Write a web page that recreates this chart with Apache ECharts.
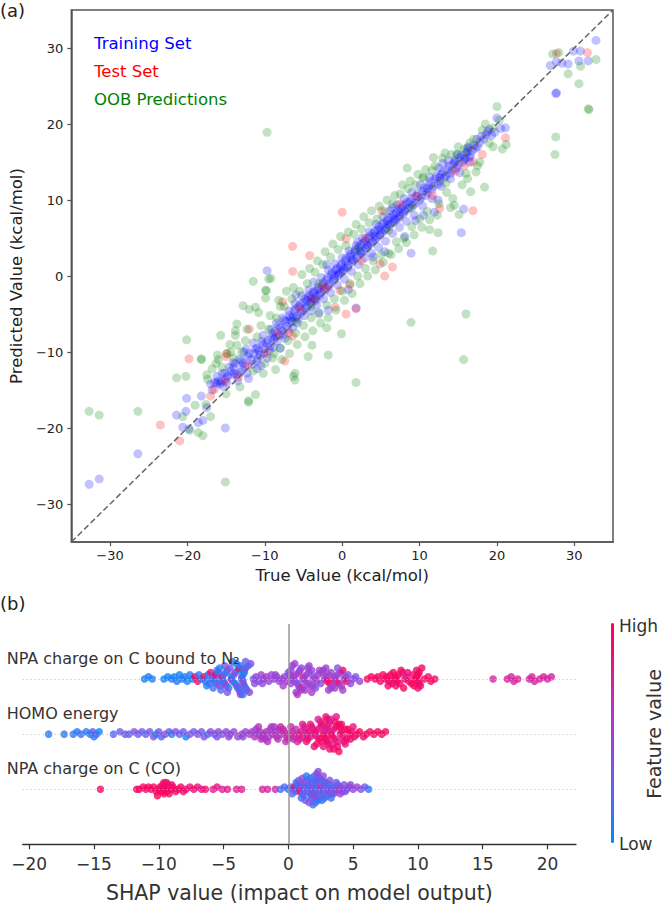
<!DOCTYPE html>
<html>
<head>
<meta charset="utf-8">
<script src="https://cdn.jsdelivr.net/npm/echarts@6/dist/echarts.min.js"></script>
<style>
  html, body { margin: 0; padding: 0; background: #fff; }
  #chart { width: 666px; height: 906px; }
</style>
</head>
<body>
<div id="chart"></div>
<script>
// (a) parity plot, points are [true value, predicted value] in kcal/mol
const trainingSet = [
  [-32.7,-27.4],[-31.4,-26.7],[-26.4,-23.4],[-21.4,-18.3],[-20.1,-16.1],[-20.2,-17.8],[-20.6,-19.9],[-19.8,-20.1],
  [-18.2,-15.8],[-18.6,-19.3],[-18.0,-19.0],[-15.1,-20.0],[-17.5,-17.3],[-16.2,-14.1],[-15.1,-13.5],[-13.8,-11.5],
  [-13.2,-12.7],[-12.1,-13.5],[-12.4,-9.6],[-9.7,0.7],[8.9,3.0],[8.1,5.2],[15.4,5.7],[11.9,8.4],[20.0,20.8],
  [21.1,19.5],[20.5,19.4],[19.7,18.9],[27.6,24.0],[27.7,24.1],[32.8,31.0],[29.9,29.6],[30.8,29.6],[26.9,27.7],
  [27.7,28.2],[28.4,28.0],[29.2,27.9],[30.6,28.3],[31.8,28.3],[12.4,10.0],[15.7,8.8],[1.8,-4.2],[-1.8,-4.5],
  [-17.0,-14.2],[-16.5,-14.0],[-16.0,-13.8],[-15.6,-13.9],[-15.2,-12.8],[-14.8,-13.2],[-14.4,-12.5],[-14.0,-12.0],
  [-13.6,-13.0],[-13.0,-11.2],[-12.6,-11.8],[-12.2,-10.6],[-11.8,-11.0],[-11.4,-10.2],[-11.0,-9.5],[-10.6,-10.4],
  [-10.3,-9.0],[-10.0,-9.6],[-9.6,-8.5],[-9.3,-9.2],[-9.0,-7.6],[-8.6,-8.0],[-8.2,-6.5],[-7.8,-7.2],[-7.5,-5.8],
  [-7.2,-6.6],[-6.8,-5.2],[-6.5,-6.0],[-6.2,-4.6],[-5.9,-5.3],[-5.6,-4.0],[-5.3,-4.8],[-5.0,-3.5],[-4.7,-4.2],
  [-4.4,-2.8],[-4.1,-3.6],[-3.8,-2.2],[-3.5,-3.0],[-3.2,-1.8],[-2.9,-2.5],[-2.6,-1.2],[-2.3,-1.9],[-2.0,-0.5],
  [-1.7,-1.3],[-1.4,0.2],[-1.1,-0.6],[-0.8,0.8],[-0.5,0.1],[-0.2,1.3],[0.1,0.6],[0.4,2.0],[0.7,1.1],[1.0,2.6],
  [1.3,1.8],[1.6,3.2],[1.9,2.4],[2.2,3.8],[2.5,3.0],[2.8,4.4],[3.1,3.6],[3.4,5.0],[3.7,4.2],[4.0,5.6],[4.3,4.8],
  [4.6,6.1],[4.9,5.4],[5.2,6.8],[5.5,6.0],[5.8,7.3],[6.1,6.6],[6.4,7.8],[6.7,7.1],[7.0,8.3],[7.3,7.6],[7.6,8.9],
  [7.9,8.2],[8.2,9.4],[8.5,8.8],[8.8,9.8],[9.2,9.3],[9.6,10.5],[10.0,10.0],[10.4,11.2],[10.8,10.6],[11.2,12.0],
  [11.6,11.4],[12.0,12.8],[12.4,12.1],[12.8,13.4],[13.2,12.9],[13.6,14.0],[14.0,13.5],[14.4,14.8],[14.8,14.2],
  [15.2,15.6],[15.6,15.0],[16.0,16.2],[16.4,15.6],[16.8,16.5],[17.2,16.8],[17.8,17.6],[18.3,18.0],[18.8,19.0],
  [19.3,18.5],[-6.0,-2.5],[-3.0,-4.8],[0.8,-1.8],[2.0,4.5],[-8.0,-9.5],[-11.0,-12.2],[4.0,2.5],[6.5,9.0],
  [10.5,8.0],[13.0,14.8],[-2.0,1.5],[5.5,3.2],[9.5,7.3],[-4.5,-3.2],[-4.0,-2.9],[-3.3,-2.6],[-1.0,0.0],[-0.3,0.5],
  [0.3,1.2],[1.2,2.2],[2.3,3.3],[3.3,4.1],[4.2,5.2],[5.0,6.0],[5.9,6.8],[6.8,7.5],[7.5,8.4],[-6.6,-5.5],
  [-8.8,-8.3],[-10.8,-9.8],[-12.8,-11.5],[-14.2,-13.0],[-15.8,-14.2],[14.6,15.2],[15.9,15.5],[16.2,16.8],
  [12.6,13.0],[11.0,11.5],
  [-16.8,-15.0],[-16.2,-13.2],[-15.4,-14.5],[-14.6,-12.0],[-13.9,-12.8],[-13.3,-11.0],[-12.9,-12.3],[-12.0,-10.2],
  [-11.6,-11.6],[-11.2,-9.6],[-10.9,-10.8],[-10.4,-8.6],[-10.1,-10.2],[-9.8,-8.8],[-9.4,-9.8],[-9.1,-8.1],
  [-8.7,-7.3],[-8.4,-8.6],[-8.0,-6.8],[-7.6,-7.7],[-7.3,-6.0],[-7.0,-7.0],[-6.7,-5.8],[-6.3,-5.4],[-6.0,-4.3],
  [-5.7,-5.6],[-5.4,-3.7],[-5.1,-4.6],[-4.8,-3.0],[-4.5,-4.0],[-4.2,-2.5],[-3.9,-3.4],[-3.6,-2.0],[-3.4,-3.2],
  [-3.1,-1.5],[-2.8,-2.2],[-2.5,-0.9],[-2.2,-1.6],[-1.9,-0.2],[-1.6,-1.0],[-1.3,0.5],[-1.0,-0.3],[-0.7,1.0],
  [-0.4,0.3],[-0.1,1.6],[0.2,0.9],[0.5,2.3],[0.8,1.5],[1.1,2.9],[1.4,2.1],[1.7,3.5],[2.0,2.7],[2.4,4.1],[2.7,3.3],
  [3.0,4.7],[3.3,3.9],[3.6,5.3],[3.9,4.5],[4.2,5.9],[4.5,5.1],[4.8,6.5],[5.1,5.7],[5.4,7.0],[5.7,6.3],[6.0,7.6],
  [6.3,6.9],[6.6,8.1],[6.9,7.4],[7.2,8.7],[7.5,7.9],[7.8,9.2],[8.1,8.5],[8.4,9.7],[8.7,9.0],[9.0,10.2],[9.4,9.6],
  [9.8,10.9],[10.2,10.3],[10.6,11.6],[11.0,11.0],[11.4,12.4],[11.8,11.8],[12.2,13.1],[12.6,12.5],[13.0,13.7],
  [13.4,13.2],[13.8,14.5],[14.2,13.9],[14.6,15.0],[15.0,14.6],[15.4,15.9],[15.8,15.3],[16.2,16.4],[16.6,15.9],
  [17.0,17.2],[17.5,17.0],[18.0,18.4],[18.6,18.6],[19.0,19.3],
  [-15.5,-12.8],[-14.9,-14.0],[-14.1,-11.4],[-13.5,-13.8],[-12.7,-10.0],[-12.3,-12.8],[-11.5,-8.8],[-11.0,-11.2],
  [-10.5,-11.8],[-10.2,-7.8],[-9.7,-10.8],[-9.2,-7.0],[-8.9,-9.4],[-8.5,-6.2],[-8.1,-7.8],[-7.7,-5.5],[-7.4,-8.2],
  [-6.9,-4.6],[-6.4,-6.8],[-6.1,-3.6],[-5.8,-6.2],[-5.2,-2.6],[-4.9,-5.2],[-4.3,-1.8],[-4.0,-4.6],[-3.7,-0.8],
  [-3.3,-3.8],[-2.7,-0.2],[-2.4,-3.0],[-1.8,0.8],[-1.5,-2.2],[-0.9,1.6],[-0.6,-1.2],[0.0,2.4],[0.3,-0.4],
  [0.9,3.3],[1.2,0.6],[1.8,4.0],[2.1,1.5],[2.6,5.0],[2.9,2.4],[3.5,5.8],[3.8,3.0],[4.4,6.8],[4.7,3.8],[5.3,7.8],
  [5.6,4.6],[6.2,8.6],[6.5,5.6],[7.1,9.4],[7.4,6.4],[8.0,10.2],[8.3,7.2],[9.0,11.0],[9.3,8.0],[10.1,12.0],
  [10.4,9.2],[11.3,13.0],[11.6,10.2],[12.5,14.2],[12.8,11.8],[13.7,15.2],[14.0,12.8],[14.9,16.0],[15.2,13.6],
  [16.3,17.0],[16.5,15.0],[17.4,18.0]
];
const testSet = [
  [-23.5,-19.6],[-21.0,-21.7],[-19.8,-10.9],[-17.0,-15.8],[-16.5,-14.9],[-15.0,-10.6],[-15.1,-13.8],[-13.4,-13.3],
  [-12.2,-11.8],[-12.0,-7.0],[-9.8,-10.1],[-7.4,-11.2],[-6.4,3.9],[-6.4,0.6],[-4.2,2.7],[0.0,8.4],[0.5,4.9],
  [5.1,8.6],[4.9,1.6],[6.5,1.2],[5.5,0.0],[0.5,-5.0],[1.8,-4.3],[-0.9,-4.1],[-0.3,-1.9],[-2.6,-1.4],[1.0,-1.2],
  [-2.0,-1.6],[-7.7,-3.4],[-5.5,-4.3],[-6.4,-7.9],[-6.9,-7.5],[-14.9,-10.2],[9.6,10.5],[11.7,10.6],[12.6,8.9],
  [16.9,8.6],[16.9,15.0],[18.1,16.0],[21.1,18.2],[27.7,29.3],[31.7,29.4],[-3.8,-3.0],[3.0,5.0],[7.5,9.5],
  [-8.3,-7.5],[2.5,2.0],[14.6,13.8],[15.8,14.5]
];
const oobPredictions = [
  [-32.7,-17.8],[-31.4,-18.3],[-26.4,-17.8],[-20.6,-18.5],[-19.7,-20.3],[-20.1,-8.4],[-21.4,-13.4],[-20.2,-13.2],
  [-18.2,-11.0],[-18.6,-20.6],[-18.0,-21.0],[-15.1,-27.1],[-15.7,-7.8],[-17.4,-13.6],[-17.6,-16.9],[-16.1,-10.4],
  [-16.3,-11.5],[-12.1,-16.6],[-11.2,-15.6],[-13.6,-9.1],[-11.5,-0.7],[-9.2,-0.3],[-9.9,-1.9],[-12.8,-3.9],
  [-11.2,-4.1],[-13.6,-6.3],[-12.1,-16.4],[-6.1,-12.8],[-6.1,-13.7],[1.8,-14.0],[8.9,-6.1],[11.7,3.3],[12.4,5.7],
  [20.0,22.3],[21.2,17.3],[20.7,16.7],[18.1,19.2],[27.6,18.3],[27.5,16.0],[31.9,21.9],[30.6,25.3],[18.4,11.7],
  [16.6,11.1],[8.4,14.2],[11.8,15.6],[15.1,8.1],[11.3,6.1],[14.3,10.2],[14.5,9.3],[14.1,16.0],[15.8,16.7],
  [17.3,13.7],[16.2,12.8],[13.4,12.2],[10.4,12.9],[11.6,13.9],[27.2,29.2],[28.0,29.4],[32.8,28.5],[30.8,27.6],
  [29.2,26.6],[31.8,22.0],[-9.7,18.9],[-1.8,-10.4],[-0.1,-7.6],[-2.0,-6.8],[-3.9,-9.1],[-4.4,-10.6],[-6.3,-13.2],
  [-8.6,-12.3],[-12.0,-4.4],[-9.9,-2.9],[-9.8,-1.9],[-13.8,-7.8],[-13.8,-7.2],[-18.2,-10.9],[-14.9,-10.2],
  [-14.4,-10.0],[16.0,-5.0],[15.7,-11.0],[-9.5,-0.4],
  [-17.5,-13.0],[-16.8,-12.2],[-15.5,-12.0],[-14.5,-9.0],[-13.0,-10.0],[-12.5,-8.5],[-11.0,-8.0],[-10.5,-6.5],
  [-10.0,-11.5],[-9.5,-7.0],[-9.0,-10.8],[-8.5,-5.5],[-8.0,-9.5],[-7.5,-4.0],[-7.0,-8.5],[-6.5,-3.0],[-6.0,-7.5],
  [-5.5,-2.0],[-5.0,-6.5],[-4.5,-1.0],[-4.0,-5.5],[-3.5,0.5],[-3.0,-5.0],[-2.5,1.5],[-2.0,-3.8],[-1.5,2.5],
  [-1.0,-3.0],[-0.5,3.5],[0.0,-2.0],[0.5,4.0],[1.0,-1.0],[1.5,5.5],[2.0,0.0],[2.5,6.2],[3.0,1.0],[3.5,7.0],
  [4.0,2.0],[4.5,7.5],[5.0,2.8],[5.5,8.5],[6.0,3.0],[6.5,9.5],[7.0,4.5],[7.5,10.8],[8.0,5.0],[8.5,11.5],[9.0,6.5],
  [9.5,12.0],[10.0,7.5],[10.5,13.0],[11.0,8.5],[12.0,14.5],[12.5,9.5],[13.0,15.5],[13.5,11.0],[15.0,17.0],
  [16.0,13.5],[17.0,18.0],[17.5,14.5],[18.5,20.0],[19.0,17.5],[19.5,19.5],[-19.0,-17.0],[-17.0,-18.5],[-8.0,-4.0],
  [-3.0,-1.0],[2.0,3.5],[6.0,6.0],[9.0,9.0],[-6.0,-6.0],[-4.0,-4.0],
  [-16.0,-11.0],[-15.0,-15.5],[-14.0,-10.8],[-13.2,-14.6],[-12.3,-7.0],[-11.5,-12.5],[-10.8,-4.8],[-10.2,-12.8],
  [-9.3,-5.2],[-8.8,-10.2],[-8.2,-3.2],[-7.8,-11.0],[-7.2,-2.0],[-6.8,-10.2],[-6.3,-1.5],[-5.8,-9.0],[-5.2,0.2],
  [-4.8,-8.0],[-4.2,1.0],[-3.8,-7.2],[-3.2,2.0],[-2.8,-6.2],[-2.2,3.2],[-1.8,-5.5],[-1.2,4.2],[-0.8,-4.5],
  [-0.2,5.2],[0.3,-3.2],[0.8,5.8],[1.3,-2.3],[1.8,6.8],[2.3,-1.0],[2.8,7.8],[3.3,0.0],[3.8,8.6],[4.3,0.8],
  [4.8,9.2],[5.3,1.8],[5.8,10.0],[6.3,2.8],[6.8,10.6],[7.3,3.6],[7.8,12.0],[8.3,4.4],[8.8,12.5],[9.3,5.4],
  [9.8,13.4],[10.3,6.4],[10.8,14.0],[11.3,7.4],[12.3,8.0],[13.3,16.2],[14.0,9.0],[14.8,16.0],[15.5,12.0],
  [16.5,17.5],[17.8,15.0],[19.5,17.0],[20.3,20.5]
];
const identityLine = [[-35, -35], [35, 35]];
const parityTicks = [-30, -20, -10, 0, 10, 20, 30];

// (b) SHAP summary, points are [shap value, feature value scaled 0..1]
const featureNames = ['NPA charge on C bound to N\u2082', 'HOMO energy', 'NPA charge on C (CO)'];
const shapNpaN2 = [
  [-11.1,0.05],[-10.8,0.06],[-10.5,0.08],[-9.6,0.05],[-9.3,0.04],[-9.0,0.07],[-8.8,0.05],[-8.6,0.1],[-8.4,0.04],
  [-8.2,0.06],[-8.0,0.08],[-7.8,0.05],[-7.6,0.1],[-7.4,0.06],[-7.2,0.95],[-7.0,0.9],[-6.9,0.12],[-6.7,0.08],
  [-6.5,0.95],[-6.4,0.15],[-6.2,0.1],[-6.1,0.2],[-6.0,0.9],[-5.9,0.12],[-5.8,0.3],[-5.7,0.05],[-5.6,0.95],
  [-5.5,0.2],[-5.4,0.1],[-5.3,0.4],[-5.2,0.08],[-5.1,0.92],[-5.0,0.15],[-5.0,0.3],[-4.9,0.1],[-4.8,0.05],
  [-4.8,0.5],[-4.7,0.2],[-4.6,0.12],[-4.5,0.35],[-4.4,0.9],[-4.4,0.1],[-4.3,0.25],[-4.2,0.15],[-4.1,0.05],
  [-4.1,0.45],[-4.0,0.2],[-3.9,0.1],[-3.9,0.3],[-3.8,0.95],[-3.8,0.15],[-3.7,0.05],[-3.7,0.25],[-3.6,0.1],
  [-3.6,0.4],[-3.5,0.2],[-3.5,0.08],[-3.5,0.3],[-3.4,0.15],[-3.4,0.5],[-3.4,0.05],[-3.3,0.1],[-3.3,0.35],
  [-3.2,0.2],[-3.1,0.12],[-3.0,0.4],[-2.9,0.3],[-2.7,0.25],[-2.5,0.45],[-2.3,0.35],[-2.1,0.5],[-1.9,0.4],
  [-1.7,0.55],[-1.5,0.45],[-1.3,0.5],[-1.1,0.4],[-0.9,0.55],[-0.7,0.45],[-0.5,0.5],[-0.3,0.4],[-0.1,0.55],
  [0.1,0.3],[0.2,0.5],[0.3,0.45],[0.4,0.6],[0.5,0.35],[0.6,0.5],[0.7,0.45],[0.8,0.55],[0.8,0.3],[0.9,0.5],
  [0.9,0.65],[1.0,0.4],[1.0,0.52],[1.1,0.45],[1.2,0.7],[1.3,0.4],[1.4,0.55],[1.5,0.48],[1.6,0.35],[1.7,0.6],
  [1.8,0.45],[1.9,0.5],[2.0,0.42],[2.2,0.55],[2.3,0.48],[2.5,0.4],[2.6,0.6],[2.8,0.5],[2.9,0.45],[3.0,0.9],
  [3.1,0.55],[3.2,0.95],[3.3,0.45],[3.4,0.5],[3.5,0.85],[3.6,0.4],[3.7,0.6],[3.8,0.5],[3.9,0.9],[4.0,0.45],
  [4.1,0.55],[4.2,0.95],[4.3,0.5],[4.4,0.4],[4.5,0.9],[4.6,0.35],[4.8,0.45],[5.0,0.4],[5.2,0.35],[5.5,0.45],
  [0.3,0.55],[0.6,0.4],[1.1,0.6],[1.5,0.5],[1.9,0.4],[2.4,0.5],[2.7,0.45],[3.3,0.55],[3.6,0.5],[0.0,0.45],
  [-0.4,0.5],[-1.0,0.45],[-4.0,0.1],[-3.7,0.4],[-3.5,0.15],[-3.3,0.25],[-5.2,0.2],[-4.9,0.35],[-5.5,0.1],
  [0.2,0.4],[0.5,0.5],[0.7,0.6],[1.3,0.5],[1.6,0.45],[1.8,0.55],[2.1,0.4],[2.9,0.5],[3.1,0.45],[3.8,0.4],
  [4.2,0.5],[-2.0,0.45],[-2.6,0.4],[-5.8,0.15],[-5.3,0.1],[-4.7,0.3],[-4.3,0.1],[-6.3,0.05],
  [6.1,0.92],[6.4,0.95],[6.7,0.9],[6.9,0.95],[7.1,0.92],[7.3,0.95],[7.5,0.9],[7.6,0.95],[7.8,0.93],[7.9,0.95],
  [8.0,0.9],[8.1,0.95],[8.2,0.92],[8.3,0.95],[8.4,0.9],[8.5,0.95],[8.6,0.93],[8.8,0.95],[9.0,0.9],[9.1,0.75],
  [9.3,0.95],[9.6,0.92],[9.8,0.95],[9.9,0.9],[10.0,0.95],[10.0,0.93],[10.1,0.9],[10.1,0.95],[10.2,0.92],
  [10.5,0.95],[10.8,0.9],[11.0,0.95],[11.3,0.92],[8.3,0.93],[8.7,0.9],[9.5,0.95],[9.9,0.93],[10.0,0.9],[10.3,0.95],
  [7.7,0.93],[8.9,0.95],[9.2,0.9],[9.7,0.95],
  [15.8,0.72],[16.9,0.75],[17.2,0.72],[17.4,0.74],[17.7,0.75],[18.6,0.7],[18.8,0.73],[19.0,0.76],[19.4,0.72],
  [19.7,0.74],[20.0,0.7],[20.3,0.73]
];
const shapHomo = [
  [-18.5,0.08],[-17.3,0.1],[-16.6,0.12],[-16.3,0.08],[-16.0,0.15],[-15.6,0.12],[-15.3,0.05],[-15.1,0.2],
  [-15.0,0.1],[-14.8,0.25],[-14.6,0.05],[-13.5,0.2],[-13.0,0.25],[-12.6,0.3],[-12.3,0.2],[-11.9,0.35],
  [-11.6,0.25],[-11.3,0.3],[-11.0,0.2],[-10.7,0.3],[-10.4,0.35],[-10.2,0.08],[-10.0,0.3],[-9.8,0.2],[-9.5,0.4],
  [-9.2,0.3],[-9.0,0.08],[-8.7,0.35],[-8.4,0.25],[-8.1,0.3],[-7.9,0.05],[-7.6,0.35],[-7.3,0.25],[-7.0,0.4],
  [-6.7,0.3],[-6.5,0.35],[-6.2,0.15],[-6.0,0.4],[-5.7,0.35],[-5.4,0.45],[-5.1,0.3],[-4.8,0.4],[-4.5,0.35],
  [-4.2,0.45],[-3.9,0.4],[-3.6,0.5],[-3.3,0.45],[-3.0,0.55],[-2.8,0.5],[-2.6,0.6],[-2.4,0.45],[-2.2,0.55],
  [-2.0,0.65],[-1.9,0.5],[-1.7,0.6],[-1.5,0.45],[-1.4,0.55],[-1.2,0.6],[-1.0,0.5],[-0.9,0.65],[-0.7,0.55],
  [-0.5,0.6],[-0.3,0.7],[-0.1,0.6],[0.1,0.75],[0.3,0.65],[0.5,0.8],[0.6,0.6],[0.8,0.75],[1.0,0.85],[1.1,0.7],
  [1.3,0.8],[1.4,0.65],[1.6,0.9],[1.7,0.75],[1.9,0.85],[2.0,0.7],[2.1,0.9],[2.2,0.8],[2.3,0.85],[2.4,0.95],
  [2.5,0.75],[2.6,0.9],[2.6,0.85],[2.7,0.95],[2.8,0.8],[2.8,0.9],[2.9,0.7],[2.9,0.95],[3.0,0.85],[3.0,0.9],
  [3.1,0.8],[3.1,0.95],[3.2,0.75],[3.3,0.9],[3.3,0.85],[3.4,0.95],[3.5,0.8],[3.6,0.9],[3.7,0.95],[3.8,0.85],
  [3.9,0.9],[4.0,0.75],[4.1,0.95],[4.2,0.85],[4.4,0.9],[4.5,0.95],[4.7,0.85],[4.9,0.9],[5.1,0.95],[5.3,0.88],
  [5.5,0.95],[5.8,0.9],[6.0,0.95],[6.3,0.92],[6.6,0.95],[6.9,0.93],[7.2,0.95],[7.5,0.93],
  [-2.5,0.5],[-2.1,0.6],[-1.8,0.55],[-1.3,0.5],[-0.8,0.6],[-0.4,0.65],[0.0,0.7],[0.4,0.6],[0.9,0.8],[1.2,0.75],
  [1.5,0.85],[1.8,0.8],[2.2,0.95],[2.5,0.9],[2.7,0.85],[3.0,0.95],[3.2,0.9],[3.4,0.8],[3.6,0.95],[3.8,0.9],
  [4.0,0.95],[4.3,0.9],[3.3,0.75],[2.9,0.9],[-5.5,0.3],[-4.6,0.45],[-3.5,0.4],
  [0.2,0.7],[0.7,0.75],[1.1,0.8],[1.4,0.9],[1.7,0.85],[2.0,0.9],[2.3,0.75],[3.5,0.9],[3.7,0.85],[3.9,0.95],
  [4.1,0.9],[4.4,0.85],[4.6,0.95],[4.8,0.9],[5.0,0.85],[-1.1,0.55],[-1.6,0.6],[-0.6,0.7],[-0.2,0.65],[-2.3,0.6]
];
const shapNpaCO = [
  [-14.5,0.92],[-11.7,0.95],[-11.5,0.93],[-11.2,0.95],[-11.0,0.9],[-10.8,0.95],[-10.6,0.93],[-10.4,0.95],
  [-10.2,0.9],[-10.0,0.95],[-9.9,0.93],[-9.8,0.95],[-9.7,0.9],[-9.6,0.95],[-9.5,0.93],[-9.5,0.9],[-9.4,0.95],
  [-9.3,0.9],[-9.2,0.95],[-9.0,0.93],[-8.9,0.95],[-8.7,0.9],[-8.5,0.95],[-8.3,0.92],[-8.1,0.95],[-7.9,0.9],
  [-7.6,0.85],[-7.3,0.92],[-7.0,0.88],[-6.7,0.8],[-6.4,0.9],[-5.8,0.78],[-5.5,0.82],[-5.1,0.75],[-4.7,0.8],
  [-4.0,0.78],[-3.6,0.8],[-2.0,0.75],[-1.6,0.72],[-1.0,0.7],[-0.6,0.15],[-0.3,0.2],[0.0,0.1],[0.2,0.3],
  [0.4,0.15],[0.5,0.9],[0.6,0.25],[0.7,0.35],[0.8,0.1],[0.9,0.4],[0.9,0.9],[1.0,0.2],[1.1,0.3],[1.2,0.45],
  [1.3,0.15],[1.4,0.35],[1.5,0.25],[1.6,0.1],[1.7,0.4],[1.8,0.2],[1.8,0.05],[1.9,0.3],[1.9,0.5],[2.0,0.05],
  [2.0,0.25],[2.0,0.45],[2.1,0.15],[2.1,0.35],[2.2,0.2],[2.2,0.4],[2.3,0.1],[2.3,0.3],[2.4,0.15],[2.5,0.85],
  [2.5,0.2],[2.6,0.35],[2.7,0.15],[2.8,0.45],[2.9,0.25],[3.0,0.3],[3.1,0.5],[3.2,0.2],[3.3,0.4],[3.4,0.35],
  [3.5,0.15],[3.6,0.45],[3.8,0.3],[3.9,0.5],[4.0,0.4],[4.2,0.45],[4.3,0.35],[4.5,0.5],[4.7,0.45],[5.0,0.4],
  [5.3,0.5],[5.6,0.35],[5.9,0.3],[6.2,0.1],
  [1.5,0.3],[1.8,0.35],[2.0,0.2],[2.1,0.1],[2.2,0.3],[2.4,0.25],[1.7,0.15],[2.6,0.2],[1.9,0.15],[2.3,0.4],
  [1.2,0.2],[2.8,0.3],[-9.6,0.93],[-9.4,0.9],[-10.1,0.95],[-9.0,0.9],
  [0.3,0.2],[0.6,0.1],[0.8,0.3],[1.0,0.15],[1.1,0.4],[1.3,0.25],[1.4,0.1],[1.6,0.35],[2.4,0.3],[2.6,0.1],
  [2.7,0.4],[2.9,0.15],[3.0,0.2],[3.2,0.35],[3.3,0.1],[3.5,0.3],[3.7,0.25],[4.0,0.5],[4.4,0.3],[4.8,0.4]
];
const shapTicks = [-20, -15, -10, -5, 0, 5, 10, 15, 20];
const rowLines = [1, 2, 3];

const FONT = 'DejaVu Sans';
const minus = v => (v < 0 ? '\u2212' + Math.abs(v) : String(v));

// beeswarm offsets, same idea as shap's summary plot (bin by x, stack alternately)
function swarm(rows, rowY, nbins) {
  const xs = rows.map(r => r[0]);
  const lo = Math.min(...xs), hi = Math.max(...xs);
  const quant = xs.map(x => Math.round(nbins * (x - lo) / (hi - lo + 1e-8)));
  const order = xs.map((_, i) => i).sort((a, b) => quant[a] - quant[b] || a - b);
  const ys = new Array(xs.length).fill(0);
  let layer = 0, last = -1;
  order.forEach(i => {
    if (quant[i] !== last) layer = 0;
    ys[i] = Math.ceil(layer / 2) * ((layer % 2) * 2 - 1);
    layer++;
    last = quant[i];
  });
  const k = 0.9 * 0.4 / Math.max(...ys.map(y => y + 1));
  return rows.map((r, i) => [r[0], rowY + ys[i] * k, r[1]]);
}

const chart = echarts.init(document.getElementById('chart'), null, { renderer: 'svg' });

const parityScatter = (name, data, color) => ({
  name,
  type: 'scatter',
  xAxisIndex: 0,
  yAxisIndex: 0,
  data,
  symbolSize: 9,
  itemStyle: { color },
  silent: true
});

const shapScatter = (name, rows, rowY) => ({
  name,
  type: 'scatter',
  xAxisIndex: 1,
  yAxisIndex: 1,
  data: swarm(rows, rowY, 40),
  symbolSize: 7.5,
  z: 3,
  silent: true
});

const option = {
  animation: false,
  textStyle: { fontFamily: FONT },
  legend: {
    left: 89,
    top: 35,
    orient: 'vertical',
    padding: 0,
    itemWidth: 0,
    itemHeight: 16,
    itemGap: 11,
    icon: 'none',
    selectedMode: false,
    textStyle: { fontSize: 16.5, fontFamily: FONT },
    data: [
      { name: 'Training Set', textStyle: { color: '#0000ff' } },
      { name: 'Test Set', textStyle: { color: '#ff0000' } },
      { name: 'OOB Predictions', textStyle: { color: '#008000' } }
    ]
  },
  grid: [
    { left: 67, top: 10, width: 546, height: 532, show: true, borderColor: '#555', borderWidth: 1.5 },
    { left: 22.7, top: 624, width: 553.3, height: 220.3 }
  ],
  xAxis: [
    {
      gridIndex: 0,
      type: 'value',
      min: -35,
      max: 35,
      axisLine: { onZero: false, lineStyle: { color: '#555', width: 1.5 } },
      axisTick: { customValues: parityTicks, length: 4, lineStyle: { color: '#555', width: 1.2 } },
      axisLabel: { customValues: parityTicks, formatter: minus, fontSize: 13, color: '#222', margin: 7 },
      splitLine: { show: false },
      name: 'True Value (kcal/mol)',
      nameLocation: 'middle',
      nameGap: 22,
      nameTextStyle: { fontSize: 16.5, color: '#222' }
    },
    {
      gridIndex: 1,
      type: 'value',
      min: -20.5,
      max: 22.2,
      axisLine: { onZero: false, lineStyle: { color: '#333', width: 1.3 } },
      axisTick: { customValues: shapTicks, length: 5, lineStyle: { color: '#333', width: 1.2 } },
      axisLabel: { customValues: shapTicks, formatter: minus, fontSize: 17, color: '#333', margin: 11 },
      splitLine: { show: false },
      name: 'SHAP value (impact on model output)',
      nameLocation: 'middle',
      nameGap: 38,
      nameTextStyle: { fontSize: 20.5, color: '#333' }
    }
  ],
  yAxis: [
    {
      gridIndex: 0,
      type: 'value',
      min: -35,
      max: 35,
      axisLine: { show: true, onZero: false, lineStyle: { color: '#555', width: 1.5 } },
      axisTick: { show: true, customValues: parityTicks, length: 4, lineStyle: { color: '#555', width: 1.2 } },
      axisLabel: { customValues: parityTicks, formatter: minus, fontSize: 13, color: '#222', margin: 8 },
      splitLine: { show: false },
      name: 'Predicted Value (kcal/mol)',
      nameLocation: 'middle',
      nameGap: 41,
      nameTextStyle: { fontSize: 16.5, color: '#222' }
    },
    {
      gridIndex: 1,
      type: 'value',
      min: 0,
      max: 4,
      z: 10,
      axisLine: { show: false },
      axisTick: { show: false },
      splitLine: { show: false },
      axisLabel: {
        customValues: rowLines,
        formatter: v => featureNames[3 - v],
        align: 'left',
        verticalAlign: 'bottom',
        padding: [0, 0, 13, 0],
        margin: 16,
        fontSize: 16,
        color: '#333'
      }
    }
  ],
  visualMap: {
    type: 'continuous',
    seriesIndex: [5, 6, 7],
    dimension: 2,
    min: 0,
    max: 1,
    calculable: false,
    hoverLink: false,
    text: null,
    showLabel: false,
    left: 611,
    top: 623,
    padding: 0,
    itemWidth: 3,
    itemHeight: 220,
    inRange: { color: ['#008bfb', '#6c5cf0', '#a040d0', '#d8209a', '#ff0051'] }
  },
  graphic: [
    { type: 'text', left: 0, top: 1, style: { text: '(a)', font: '18px "DejaVu Sans"', fill: '#222' } },
    { type: 'text', left: 0, top: 594, style: { text: '(b)', font: '18px "DejaVu Sans"', fill: '#222' } },
    { type: 'text', x: 619, y: 626, style: { text: 'High', font: '17px "DejaVu Sans"', fill: '#333', verticalAlign: 'middle' } },
    { type: 'text', x: 619, y: 844, style: { text: 'Low', font: '17px "DejaVu Sans"', fill: '#333', verticalAlign: 'middle' } },
    {
      type: 'text', x: 654, y: 734, rotation: Math.PI / 2,
      style: { text: 'Feature value', font: '19px "DejaVu Sans"', fill: '#333', align: 'center', verticalAlign: 'middle' }
    }
  ],
  series: [
    parityScatter('Training Set', trainingSet, 'rgba(0,0,255,0.3)'),
    parityScatter('Test Set', testSet, 'rgba(255,0,0,0.3)'),
    parityScatter('OOB Predictions', oobPredictions, 'rgba(0,128,0,0.3)'),
    {
      name: 'identity',
      type: 'line',
      xAxisIndex: 0,
      yAxisIndex: 0,
      data: identityLine,
      symbol: 'none',
      silent: true,
      z: 5,
      lineStyle: { color: '#666', width: 1.5, type: [6, 3] }
    },
    {
      name: 'guides',
      type: 'line',
      xAxisIndex: 1,
      yAxisIndex: 1,
      data: [],
      z: 1,
      markLine: {
        silent: true,
        symbol: 'none',
        label: { show: false },
        data: [
          { xAxis: 0, lineStyle: { color: '#999', width: 1.5, type: 'solid' } },
          ...rowLines.map(v => ({ yAxis: v, lineStyle: { color: '#bbb', width: 1, type: [1, 3] } }))
        ]
      }
    },
    shapScatter(featureNames[0], shapNpaN2, 3),
    shapScatter(featureNames[1], shapHomo, 2),
    shapScatter(featureNames[2], shapNpaCO, 1)
  ]
};

chart.setOption(option);
window.addEventListener('resize', () => chart.resize());
</script>
</body>
</html>
